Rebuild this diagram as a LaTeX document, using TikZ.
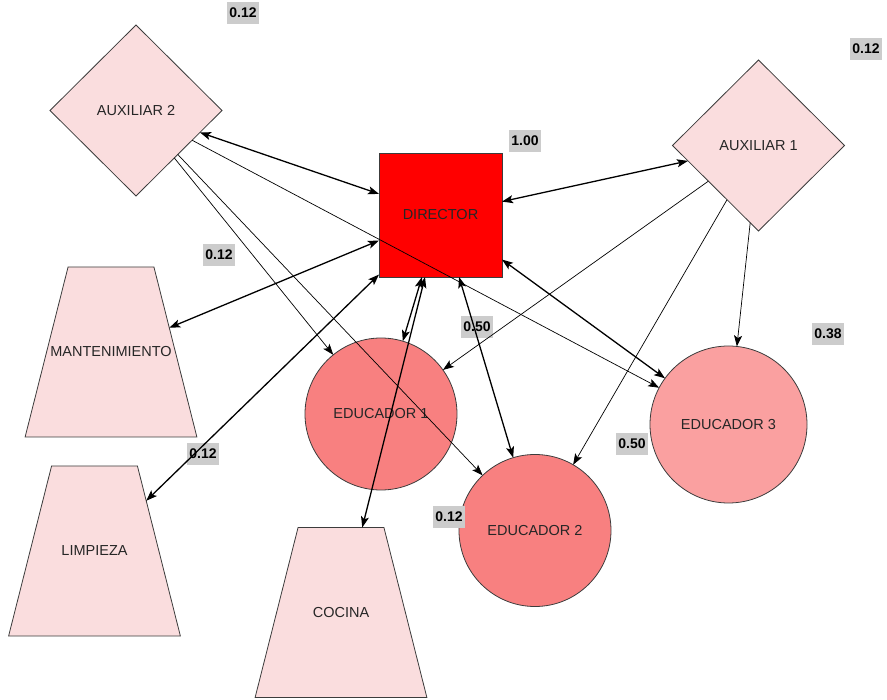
\documentclass[tikz,border=0pt]{standalone}
\usepackage{fontspec}
\setmainfont{Liberation Sans}
\usetikzlibrary{shapes.geometric, arrows.meta}

\definecolor{rosa}{RGB}{250,221,222}
\definecolor{rojo}{RGB}{255,0,0}
\definecolor{salmon}{RGB}{248,128,128}
\definecolor{salmonclaro}{RGB}{250,160,160}
\definecolor{borde}{RGB}{60,60,60}

\tikzset{
  nodo/.style={draw=borde, line width=0.8pt, inner sep=0pt, outer sep=0pt,
    text=black!85, font=\fontsize{14.5}{17}\selectfont},
  rombo/.style={nodo, diamond, fill=rosa, minimum width=172pt, minimum height=171pt},
  trap/.style={nodo, trapezium, inner xsep=4pt, inner ysep=2pt, trapezium angle=45,
    trapezium stretches=true, fill=rosa, minimum width=172pt, minimum height=170pt},
  circ/.style={nodo, circle, minimum size=152pt},
  txt/.style={text=black!85, font=\fontsize{14.5}{17}\selectfont},
  peso/.style={fill=gray!40, inner xsep=2.5pt, inner ysep=0pt, minimum height=22pt,
    font=\bfseries\fontsize{14}{16}\selectfont},
  punta/.tip={Stealth[length=11pt,width=8pt,inset=2.5pt]},
  doble/.style={line width=1.3pt, punta-punta},
  simple/.style={line width=0.7pt, -punta},
}

\begin{document}
\begin{tikzpicture}[x=1pt,y=-1pt]
\useasboundingbox (0,0) rectangle (887,700);
\coordinate (c-dir) at (440.5,215);
\coordinate (c-aux2) at (136,110.5);
\coordinate (c-aux1) at (758.5,145.5);
\coordinate (c-mant) at (111,352);
\coordinate (c-limp) at (94.5,551);
\coordinate (c-coc) at (341,612.5);
\coordinate (c-edu1) at (381,414);
\coordinate (c-edu2) at (535,530.5);
\coordinate (c-edu3) at (728.5,424.5);

\node[nodo, rectangle, fill=rojo, minimum width=123pt, minimum height=124pt] (dir) at (c-dir) {DIRECTOR};
\node[rombo] (aux2) at (c-aux2) {AUXILIAR 2};
\node[rombo] (aux1) at (c-aux1) {AUXILIAR 1};
\node[trap, label={[txt]center:MANTENIMIENTO}] (mant) at (c-mant) {};
\node[trap, label={[txt]center:LIMPIEZA}] (limp) at (c-limp) {};
\node[trap, label={[txt]center:COCINA}] (coc) at (c-coc) {};
\node[circ, fill=salmon] (edu1) at (c-edu1) {EDUCADOR 1};
\node[circ, fill=salmon] (edu2) at (c-edu2) {EDUCADOR 2};
\node[circ, fill=salmonclaro, minimum size=157pt] (edu3) at (c-edu3) {EDUCADOR 3};

\node[peso] (p-dir) at (525,141) {1.00};
\node[peso] (p-aux2) at (243,13) {0.12};
\node[peso] (p-aux1) at (866,49) {0.12};
\node[peso] (p-mant) at (219,255) {0.12};
\node[peso] (p-limp) at (203,454) {0.12};
\node[peso] (p-coc) at (449,517) {0.12};
\node[peso] (p-edu1) at (477,327) {0.50};
\node[peso] (p-edu2) at (632,444) {0.50};
\node[peso] (p-edu3) at (828,334) {0.38};

\draw[doble] (aux2) -- (dir);
\draw[simple] (aux2) -- (edu1);
\draw[simple] (aux2) -- (edu2);
\draw[simple] (aux2) -- (edu3);
\draw[doble] (dir) -- (mant);
\draw[doble] (dir) -- (limp);
\draw[doble] (dir) -- (edu1);
\draw[doble] (dir) -- (coc);
\draw[doble] (dir) -- (edu2);
\draw[doble] (dir) -- (edu3);
\draw[doble] (dir) -- (aux1);
\draw[simple] (aux1) -- (edu1);
\draw[simple] (aux1) -- (edu2);
\draw[simple] (aux1) -- (edu3);
\end{tikzpicture}
\end{document}
